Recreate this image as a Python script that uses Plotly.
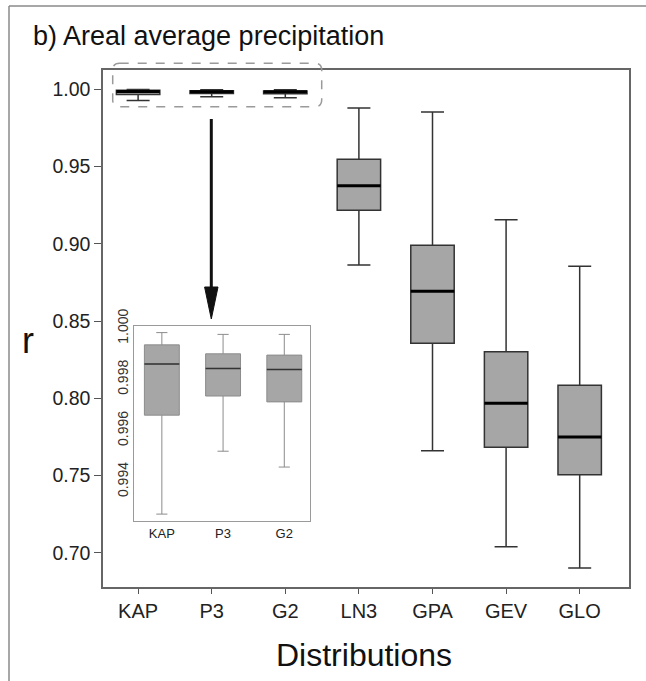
import plotly.graph_objects as go

# Correlation coefficient r of fitted distributions, areal average precipitation
dists = ["KAP", "P3", "G2", "LN3", "GPA", "GEV", "GLO"]
r_upper = [0.99983, 0.99976, 0.99976, 0.9879, 0.9853, 0.9156, 0.8854]
r_q3 = [0.99935, 0.99900, 0.99895, 0.9547, 0.8990, 0.8301, 0.8084]
r_median = [0.99860, 0.99843, 0.99839, 0.9376, 0.8692, 0.7967, 0.7749]
r_q1 = [0.99660, 0.99735, 0.99712, 0.9217, 0.8356, 0.7682, 0.7505]
r_lower = [0.99273, 0.99519, 0.99457, 0.8863, 0.7660, 0.7039, 0.6901]

main_ticks = [0.70, 0.75, 0.80, 0.85, 0.90, 0.95, 1.00]
inset_ticks = [0.994, 0.996, 0.998, 1.000]
n_zoom = 3  # distributions repeated in the zoomed panel

W, H = 646, 681
PL, PR, PT, PB = 103, 629, 70, 587
FONT = "Liberation Sans, Arial, sans-serif"


def px(x):
    return (x - PL) / (PR - PL)


def py(y):
    return (PB - y) / (PB - PT)


def rounded_rect(x0, y0, x1, y1, r):
    pts = [
        f"M {px(x0 + r)},{py(y0)}",
        f"L {px(x1 - r)},{py(y0)}",
        f"Q {px(x1)},{py(y0)} {px(x1)},{py(y0 + r)}",
        f"L {px(x1)},{py(y1 - r)}",
        f"Q {px(x1)},{py(y1)} {px(x1 - r)},{py(y1)}",
        f"L {px(x0 + r)},{py(y1)}",
        f"Q {px(x0)},{py(y1)} {px(x0)},{py(y1 - r)}",
        f"L {px(x0)},{py(y0 + r)}",
        f"Q {px(x0)},{py(y0)} {px(x0 + r)},{py(y0)} Z",
    ]
    return " ".join(pts)


def median_segments(medians, half):
    xs, ys = [], []
    for i, m in enumerate(medians):
        xs += [i - half, i + half, None]
        ys += [m, m, None]
    return xs, ys


fig = go.Figure()

BOX_W = 0.59
pos = list(range(len(dists)))
fig.add_trace(go.Box(
    x=pos, q1=r_q1, median=r_median, q3=r_q3,
    lowerfence=r_lower, upperfence=r_upper,
    width=BOX_W, whiskerwidth=0.53, boxpoints=False,
    fillcolor="#a6a6a6", line=dict(color="#333333", width=1.5),
    hoverinfo="skip", xaxis="x", yaxis="y",
))
mx, my = median_segments(r_median, BOX_W / 2)
fig.add_trace(go.Scatter(x=mx, y=my, mode="lines",
                         line=dict(color="#000000", width=3),
                         hoverinfo="skip", xaxis="x", yaxis="y"))

# zoomed panel for the three best-fitting distributions
IN_W = 0.57
zpos = list(range(n_zoom))
fig.add_trace(go.Box(
    x=zpos, q1=r_q1[:n_zoom], median=r_median[:n_zoom], q3=r_q3[:n_zoom],
    lowerfence=r_lower[:n_zoom], upperfence=r_upper[:n_zoom],
    width=IN_W, whiskerwidth=0.32, boxpoints=False,
    fillcolor="#a6a6a6", line=dict(color="#8c8c8c", width=1),
    hoverinfo="skip", xaxis="x2", yaxis="y2",
))
zx, zy = median_segments(r_median[:n_zoom], IN_W / 2)
fig.add_trace(go.Scatter(x=zx, y=zy, mode="lines",
                         line=dict(color="#333333", width=1.5),
                         hoverinfo="skip", xaxis="x2", yaxis="y2"))

shapes = [
    # outer panel border
    dict(type="line", xref="paper", yref="paper",
         x0=px(9), y0=py(6), x1=px(9), y1=py(H + 5),
         line=dict(color="#8a8a8a", width=1.5)),
    dict(type="line", xref="paper", yref="paper",
         x0=px(9), y0=py(6), x1=px(W + 5), y1=py(6),
         line=dict(color="#8a8a8a", width=1.5)),
    # dashed outline around the top three boxes
    dict(type="path", xref="paper", yref="paper",
         path=rounded_rect(112.7, 63.3, 321.7, 106.7, 7),
         line=dict(color="#9a9a9a", width=1.5, dash="dash")),
    # arrow pointing to the zoomed panel
    dict(type="line", xref="paper", yref="paper",
         x0=px(211.3), y0=py(119), x1=px(211.3), y1=py(292),
         line=dict(color="#111111", width=3)),
    dict(type="path", xref="paper", yref="paper",
         path=f"M {px(204.6)},{py(287)} L {px(218)},{py(287)} L {px(211.3)},{py(319)} Z",
         fillcolor="#111111", line=dict(color="#111111", width=1)),
]

annotations = [
    dict(text="b) Areal average precipitation", xref="paper", yref="paper",
         x=px(31), y=py(36), xanchor="left", yanchor="middle", showarrow=False,
         font=dict(family=FONT, size=27, color="#111111")),
    dict(text="r", xref="paper", yref="paper",
         x=px(28), y=py(340), xanchor="center", yanchor="middle", showarrow=False,
         font=dict(family=FONT, size=36, color="#111111")),
    dict(text="Distributions", xref="paper", yref="paper",
         x=px(364), y=py(655), xanchor="center", yanchor="middle", showarrow=False,
         font=dict(family=FONT, size=32, color="#111111")),
]

fig.update_layout(
    width=W, height=H,
    margin=dict(l=PL, r=W - PR, t=PT, b=H - PB),
    paper_bgcolor="white", plot_bgcolor="white",
    showlegend=False,
    shapes=shapes, annotations=annotations,
    xaxis=dict(
        range=[-0.477, 6.67], tickmode="array", tickvals=pos, ticktext=dists,
        ticks="outside", ticklen=5, tickwidth=1.2, tickcolor="#555555",
        showline=True, mirror=True, linecolor="#666666", linewidth=1.5,
        showgrid=False, zeroline=False,
        tickfont=dict(family=FONT, size=20, color="#222222"),
    ),
    yaxis=dict(
        range=[0.6778, 1.0125], tickmode="array", tickvals=main_ticks,
        tickformat=".2f",
        ticks="outside", ticklen=7, tickwidth=1.2, tickcolor="#555555",
        showline=True, mirror=True, linecolor="#666666", linewidth=1.5,
        showgrid=False, zeroline=False,
        tickfont=dict(family=FONT, size=19.5, color="#222222"),
    ),
    xaxis2=dict(
        domain=[px(134.3), px(310)], anchor="y2",
        range=[-0.45, 2.42], tickmode="array", tickvals=zpos,
        ticktext=dists[:n_zoom], ticks="",
        showline=True, mirror=True, linecolor="#9a9a9a", linewidth=1.2,
        showgrid=False, zeroline=False,
        tickfont=dict(family=FONT, size=13, color="#222222"),
    ),
    yaxis2=dict(
        domain=[py(521), py(325.7)], anchor="x2",
        range=[0.99246, 1.0001], tickmode="array", tickvals=inset_ticks,
        tickformat=".3f", tickangle=-90, ticks="",
        showline=True, mirror=True, linecolor="#9a9a9a", linewidth=1.2,
        showgrid=False, zeroline=False,
        tickfont=dict(family=FONT, size=14, color="#333333"),
    ),
)

fig.write_html("out.html")
